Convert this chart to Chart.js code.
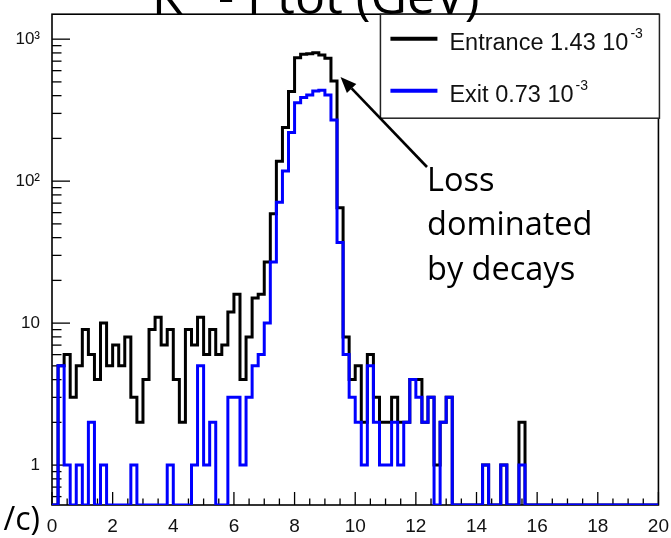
<!DOCTYPE html>
<html>
<head>
<meta charset="utf-8">
<script src="https://cdn.jsdelivr.net/npm/chart.js@4.4.0/dist/chart.umd.min.js"></script>
<style>
  html, body { margin: 0; padding: 0; background: #fff; }
  canvas { display: block; }
</style>
</head>
<body>
<canvas id="c" width="671" height="538"></canvas>
<script>
// K- total momentum, 100 bins of 0.2 GeV/c from 0 to 20
const binStart = 0;
const binWidth = 0.2;

const entranceCounts = [
  0, 5, 6, 3, 5, 9, 6, 4, 10, 5, 7, 5, 8, 3, 2, 4, 9, 11, 7, 9,
  4, 2, 9, 7, 11, 6, 9, 6, 7, 12, 16, 4, 8, 15, 16, 27, 59, 138, 239, 428,
  740, 782, 790, 803, 775, 735, 508, 65, 8, 4, 5, 2, 6, 3, 2, 2, 3, 2, 2, 4,
  4, 2, 3, 1, 2, 3, 0, 0, 0, 0, 0, 1, 0, 0, 1, 0, 0, 2, 0, 0,
  0, 0, 0, 0, 0, 0, 0, 0, 0, 0, 0, 0, 0, 0, 0, 0, 0, 0, 0, 0
];

const exitCounts = [
  0, 5, 1, 0, 1, 0, 2, 0, 1, 0, 0, 0, 0, 1, 0, 0, 0, 0, 0, 1,
  0, 0, 0, 1, 5, 1, 2, 0, 0, 3, 3, 1, 3, 5, 6, 10, 27, 71, 118, 220,
  357, 388, 404, 431, 436, 404, 270, 37, 6, 3, 2, 1, 5, 2, 1, 1, 2, 1, 2, 4,
  3, 2, 3, 0, 2, 3, 0, 0, 0, 0, 0, 1, 0, 0, 1, 0, 0, 1, 0, 0,
  0, 0, 0, 0, 0, 0, 0, 0, 0, 0, 0, 0, 0, 0, 0, 0, 0, 0, 0, 0
];

const seriesNames = ['Entrance 1.43 10', 'Exit 0.73 10'];
const seriesExponents = ['-3', '-3'];
const seriesColors = ['#000000', '#0000ff'];

const xTickValues = [0, 2, 4, 6, 8, 10, 12, 14, 16, 18, 20];
const yTickValues = [1, 10, 100, 1000];
const yTickLabels = ['1', '10', '10\u00B2', '10\u00B3'];

const titleParts = ['K', '-', 'Ptot (GeV)'];
const noteLines = ['Loss', 'dominated', 'by decays'];
const cornerText = '/c)';

// histogram outline: one point per left bin edge plus the closing edge
function histPoints(counts) {
  const pts = counts.map((v, i) => ({ x: binStart + i * binWidth, y: v }));
  pts.push({ x: binStart + counts.length * binWidth, y: counts[counts.length - 1] });
  return pts;
}

// log axis that puts empty bins on the lower edge instead of dropping them
class HistLogScale extends Chart.LogarithmicScale {
  parse(raw, index) {
    const v = Chart.LinearScale.prototype.parse.call(this, raw, index);
    if (v === 0) return 0;
    return super.parse(raw, index);
  }
}
HistLogScale.id = 'histlog';
HistLogScale.defaults = Chart.LogarithmicScale.defaults;
Chart.register(HistLogScale);

function seg(ctx, x1, y1, x2, y2) {
  ctx.beginPath();
  ctx.moveTo(x1, y1);
  ctx.lineTo(x2, y2);
  ctx.stroke();
}

// frame and inward tick marks
const framePlugin = {
  id: 'frame',
  beforeDatasetsDraw(chart) {
    const { ctx, chartArea: a, scales: { x, y } } = chart;
    ctx.save();
    ctx.strokeStyle = '#000';
    ctx.lineWidth = 1.3;
    for (let v = x.min; v <= x.max + 1e-9; v += 0.5) {
      const px = x.getPixelForValue(v);
      const major = Math.abs(v / 2 - Math.round(v / 2)) < 1e-6;
      seg(ctx, px, a.bottom, px, a.bottom - (major ? 13 : 6.5));
    }
    for (let d = 0.1; d <= 1000; d *= 10) {
      for (let m = 1; m <= 9; m++) {
        const v = m * d;
        if (v < y.min || v > y.max) continue;
        const py = y.getPixelForValue(v);
        seg(ctx, a.left, py, a.left + (m === 1 ? 18 : 9.5), py);
      }
    }
    ctx.lineWidth = 1.6;
    ctx.strokeRect(a.left, a.top, a.right - a.left, a.bottom - a.top);
    ctx.restore();
  }
};

// legend box, title, annotation and arrow
const overlayPlugin = {
  id: 'overlay',
  afterDraw(chart) {
    const { ctx, chartArea: a, scales: { x, y } } = chart;
    ctx.save();

    // legend
    const w = 279, h = 104;
    const bx = a.right + 1 - w, by = a.top;
    ctx.fillStyle = '#fff';
    ctx.fillRect(bx, by, w, h);
    ctx.lineWidth = 1.5;
    ctx.strokeStyle = '#222';
    ctx.strokeRect(bx, by, w, h);
    chart.data.datasets.forEach((ds, i) => {
      const cy = by + 24.5 + i * 52;
      ctx.strokeStyle = ds.borderColor;
      ctx.lineWidth = 4;
      seg(ctx, bx + 10, cy, bx + 57, cy);
      ctx.fillStyle = '#111';
      ctx.textBaseline = 'alphabetic';
      ctx.textAlign = 'left';
      ctx.font = '23.5px "Liberation Sans"';
      ctx.fillText(ds.label, bx + 69, cy + 11.5);
      const tw = ctx.measureText(ds.label).width;
      ctx.font = '14px "Liberation Sans"';
      ctx.fillText(seriesExponents[i], bx + 69 + tw + 2, cy - 0.5);
    });

    // title, partly above the page edge
    ctx.fillStyle = '#000';
    ctx.font = '50px "Open Sans"';
    const titleX = [152, 218, 247];
    titleParts.forEach((t, i) => ctx.fillText(t, titleX[i], 13.5));

    // axis title remnant
    ctx.font = '32px "Open Sans"';
    ctx.textAlign = 'right';
    ctx.fillText(cornerText, 40, 530);

    // annotation
    ctx.textAlign = 'left';
    ctx.font = '32.5px "Open Sans"';
    noteLines.forEach((t, i) => ctx.fillText(t, 427, 190.7 + i * 44.7));

    // arrow pointing at the falling edge of the entrance peak
    const tipX = x.getPixelForValue(binStart + 47 * binWidth) + 3.5;
    const tipY = y.getPixelForValue(entranceCounts[46]) - 4;
    const tailX = 427, tailY = 167;
    const ang = Math.atan2(tipY - tailY, tipX - tailX);
    const hl = 16, hw = 6.5;
    const baseX = tipX - hl * Math.cos(ang), baseY = tipY - hl * Math.sin(ang);
    ctx.strokeStyle = '#000';
    ctx.lineWidth = 2.6;
    seg(ctx, tailX, tailY, baseX, baseY);
    ctx.beginPath();
    ctx.moveTo(tipX, tipY);
    ctx.lineTo(baseX + hw * Math.sin(ang), baseY - hw * Math.cos(ang));
    ctx.lineTo(baseX - hw * Math.sin(ang), baseY + hw * Math.cos(ang));
    ctx.closePath();
    ctx.fill();

    ctx.restore();
  }
};

new Chart(document.getElementById('c'), {
  type: 'line',
  data: {
    datasets: [
      {
        label: seriesNames[0],
        data: histPoints(entranceCounts),
        borderColor: seriesColors[0],
        borderWidth: 3,
        stepped: 'before',
        pointRadius: 0,
        fill: false,
        order: 2
      },
      {
        label: seriesNames[1],
        data: histPoints(exitCounts),
        borderColor: seriesColors[1],
        borderWidth: 3,
        stepped: 'before',
        pointRadius: 0,
        fill: false,
        order: 1
      }
    ]
  },
  options: {
    responsive: false,
    animation: false,
    devicePixelRatio: 1,
    layout: { padding: { top: 13, right: 10, bottom: 0, left: 0 } },
    elements: { line: { borderJoinStyle: 'miter', borderCapStyle: 'butt', tension: 0 } },
    plugins: {
      legend: { display: false },
      tooltip: { enabled: false },
      title: { display: false }
    },
    scales: {
      x: {
        type: 'linear',
        min: 0,
        max: 20,
        grid: { display: false },
        border: { display: false },
        afterBuildTicks: s => { s.ticks = xTickValues.map(v => ({ value: v })); },
        afterFit: s => { s.height = 33; },
        ticks: {
          autoSkip: false,
          maxRotation: 0,
          padding: 2,
          color: '#111',
          font: { family: '"Liberation Sans"', size: 19 },
          callback: v => String(v)
        }
      },
      y: {
        type: 'histlog',
        min: 0.5236,
        max: 1499,
        grid: { display: false },
        border: { display: false },
        afterBuildTicks: s => { s.ticks = yTickValues.map(v => ({ value: v })); },
        afterFit: s => { s.width = 52; },
        ticks: {
          autoSkip: false,
          padding: 4,
          color: '#111',
          font: { family: '"Liberation Sans"', size: 17 },
          callback: (v, i) => yTickLabels[i]
        }
      }
    }
  },
  plugins: [framePlugin, overlayPlugin]
});
</script>
</body>
</html>
